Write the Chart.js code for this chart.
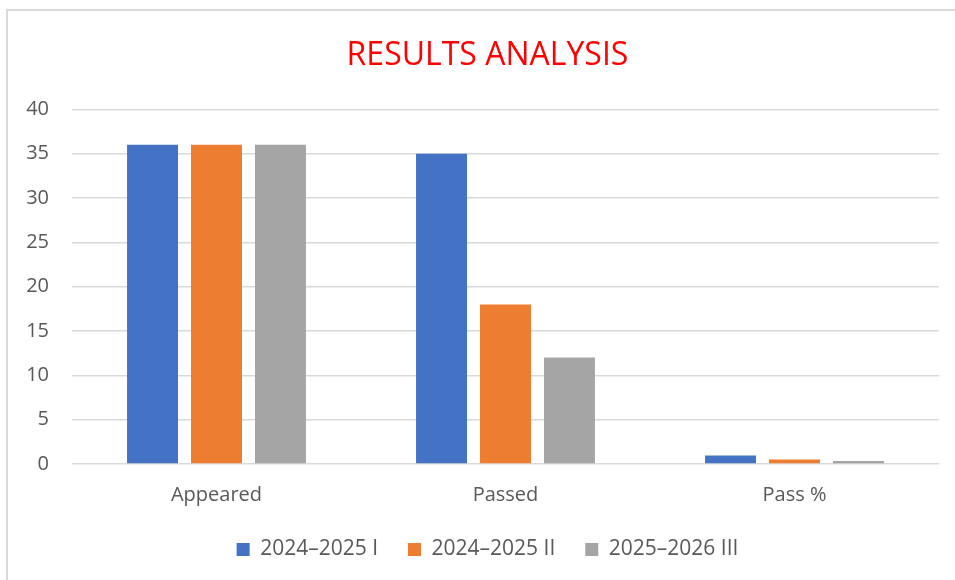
<!DOCTYPE html>
<html>
<head>
<meta charset="utf-8">
<script src="https://cdn.jsdelivr.net/npm/chart.js@4.4.1/dist/chart.umd.min.js"></script>
<style>
  html, body { margin: 0; padding: 0; background: #fff; overflow: hidden; }
  #frame {
    position: absolute; left: 6px; top: 9px; width: 1000px; height: 1000px;
    border-left: 2px solid #d9d9d9; border-top: 2px solid #d9d9d9;
  }
  #chart { position: absolute; left: 0; top: 0; }
</style>
</head>
<body>
<div id="frame"></div>
<canvas id="chart" width="955" height="580"></canvas>
<script>
  const categories = ["Appeared", "Passed", "Pass %"];
  const seriesNames = ["2024\u20132025 I", "2024\u20132025 II", "2025\u20132026 III"];
  const term1 = [36, 35, 0.97];
  const term2 = [36, 18, 0.5];
  const term3 = [36, 12, 0.33];
  const yTicks = [0, 5, 10, 15, 20, 25, 30, 35, 40];

  const colors = ["#4472C4", "#ED7D31", "#A5A5A5"];
  const fontFamily = "'Open Sans', 'Noto Sans', sans-serif";

  const ctx = document.getElementById("chart").getContext("2d");
  new Chart(ctx, {
    type: "bar",
    data: {
      labels: categories,
      datasets: [term1, term2, term3].map((vals, i) => ({
        label: seriesNames[i],
        data: vals,
        backgroundColor: colors[i],
        borderWidth: 0,
        categoryPercentage: 0.664,
        barPercentage: 0.797
      }))
    },
    options: {
      responsive: false,
      animation: false,
      layout: { padding: { left: 22, right: 2, top: 37, bottom: 10 } },
      plugins: {
        title: {
          display: true,
          text: "RESULTS ANALYSIS",
          color: "#FF0000",
          font: { family: fontFamily, size: 32, weight: "normal" },
          padding: { top: 0, bottom: 34 }
        },
        legend: {
          position: "bottom",
          labels: {
            color: "#595959",
            font: { family: fontFamily, size: 21 },
            boxWidth: 13,
            boxHeight: 13,
            padding: 30
          }
        },
        tooltip: { enabled: false }
      },
      scales: {
        x: {
          grid: { display: false, drawTicks: false },
          border: { display: false },
          ticks: { color: "#595959", font: { family: fontFamily, size: 20 }, padding: 19 },
          afterFit: axis => { axis.height = 45; }
        },
        y: {
          min: 0,
          max: 40,
          afterBuildTicks: axis => { axis.ticks = yTicks.map(v => ({ value: v })); },
          afterFit: axis => { axis.width = 50; },
          grid: { color: "#d9d9d9", lineWidth: 1.5, drawTicks: false },
          border: { display: false },
          ticks: { color: "#595959", font: { family: fontFamily, size: 20 }, padding: 23 }
        },
        // empty spacer on the right so title/legend sit where the original has them
        yRight: {
          position: "right",
          grid: { display: false },
          border: { display: false },
          ticks: { display: false },
          afterFit: axis => { axis.width = 14; }
        }
      }
    }
  });
</script>
</body>
</html>
